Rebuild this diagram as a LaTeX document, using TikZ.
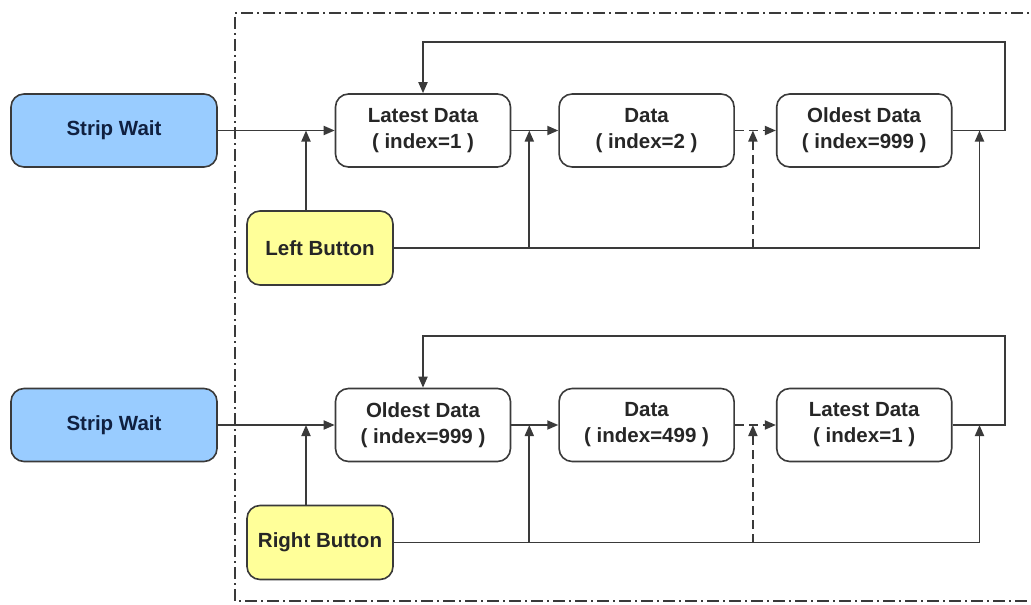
\documentclass[tikz,border=0pt]{standalone}
\usepackage{fontspec}
\setmainfont{Liberation Sans}
\usetikzlibrary{arrows.meta, positioning, calc}
\usepackage{xcolor}
\definecolor{waitBlue}{HTML}{99CCFF}
\definecolor{btnYellow}{HTML}{FFFF99}
\definecolor{lineGray}{HTML}{3A3A3A}
\definecolor{navyText}{HTML}{102040}
\tikzset{
    font=\fontsize{20.5}{26}\selectfont\bfseries,
    >={Triangle[length=11pt,width=9pt]},
    % Shapes
    box/.style={rectangle, draw=lineGray, line width=1.6pt, rounded corners=13pt,
                align=center, inner sep=0pt, minimum height=73pt},
    strip/.style={box, fill=waitBlue, text=navyText, minimum width=206pt},
    dat/.style={box, fill=white, text=black!85, minimum width=175pt},
    btn/.style={box, fill=btnYellow, text=black!85, minimum width=146pt, minimum height=74pt},
    % Flow & frame
    flow/.style={->, line width=1.8pt, lineGray},
    dashflow/.style={flow, dash pattern=on 9pt off 5pt},
    frame/.style={line width=1.5pt, lineGray, dash pattern=on 12pt off 4pt on 2pt off 4pt}
}
\begin{document}
\begin{tikzpicture}[x=1pt, y=-1pt]
\useasboundingbox (0,0) rectangle (1031,605);

% dash-dot frame
\coordinate (frameTR) at (1045,13);
\coordinate (frameBR) at (1045,601);
\draw[frame] (frameTR) -| (235,601) -- (frameBR);

% upper chain
\node[strip] (wait1) at (114,130.5) {Strip Wait};
\node[dat] (latest1) at (423,130.5) {Latest Data\\( index=1 )};
\node[dat, right=47pt of latest1] (mid1) {Data\\( index=2 )};
\node[dat, right=41pt of mid1] (oldest1) {Oldest Data\\( index=999 )};
\node[btn] (leftBtn) at (320,248) {Left Button};

\coordinate (back1) at (1005,42);
\coordinate (tapA1) at ($(latest1.east)+(18,0)$);
\coordinate (tapB1) at ($(mid1.east)+(18,0)$);
\coordinate (tapC1) at ($(oldest1.east)+(27,0)$);

\draw[flow] (wait1) -- (latest1);
\draw[flow] (latest1) -- (mid1);
\draw[dashflow] (mid1) -- (oldest1);
\draw[flow] (oldest1.east) -| (back1) -| (latest1.north);
\draw[flow] ([xshift=-14pt]leftBtn.north) -- ([xshift=-14pt]leftBtn.north |- wait1);
\draw[flow] (leftBtn.east) -| (tapC1);
\draw[flow] (tapA1 |- leftBtn) -- (tapA1);
\draw[dashflow] (tapB1 |- leftBtn) -- (tapB1);

% lower chain
\node[strip] (wait2) at (114,425) {Strip Wait};
\node[dat] (oldest2) at (423,425) {Oldest Data\\( index=999 )};
\node[dat, right=47pt of oldest2] (mid2) {Data\\( index=499 )};
\node[dat, right=41pt of mid2] (latest2) {Latest Data\\( index=1 )};
\node[btn] (rightBtn) at (320,542.5) {Right Button};

\coordinate (back2) at (1005,336);
\coordinate (tapA2) at ($(oldest2.east)+(18,0)$);
\coordinate (tapB2) at ($(mid2.east)+(18,0)$);
\coordinate (tapC2) at ($(latest2.east)+(27,0)$);

\draw[flow] (wait2) -- (oldest2);
\draw[flow] (oldest2) -- (mid2);
\draw[dashflow] (mid2) -- (latest2);
\draw[flow] (latest2.east) -| (back2) -| (oldest2.north);
\draw[flow] ([xshift=-14pt]rightBtn.north) -- ([xshift=-14pt]rightBtn.north |- wait2);
\draw[flow] (rightBtn.east) -| (tapC2);
\draw[flow] (tapA2 |- rightBtn) -- (tapA2);
\draw[dashflow] (tapB2 |- rightBtn) -- (tapB2);

\end{tikzpicture}
\end{document}
